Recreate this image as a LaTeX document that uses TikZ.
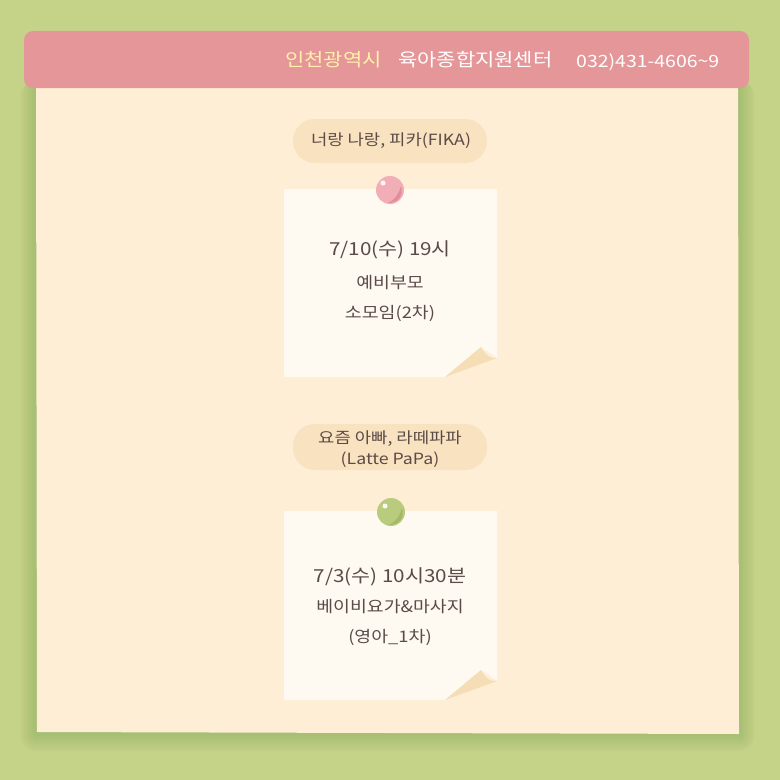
\documentclass[tikz,border=0pt]{standalone}
\usepackage{fontspec}
\setmainfont{Noto Sans CJK KR}
\newfontfamily\wideFont[FakeStretch = 1.15]{Noto Sans CJK KR}

\definecolor{bgGreen}{HTML}{C5D388}
\definecolor{paperCream}{HTML}{FEEED5}
\definecolor{headPink}{HTML}{E59699}
\definecolor{pillTan}{HTML}{F8E2C0}
\definecolor{noteWhite}{HTML}{FEF9F1}
\definecolor{flapTan}{HTML}{F5DDB6}
\definecolor{inkBrown}{HTML}{5B4B48}
\definecolor{cityYellow}{HTML}{FFF0AA}
\definecolor{pinPink}{HTML}{F2AEB6}
\definecolor{pinPinkDark}{HTML}{E28E99}
\definecolor{pinGreen}{HTML}{B9CB7C}
\definecolor{pinGreenDark}{HTML}{A5B868}

\tikzstyle{headText} = [inner sep = 0pt, anchor = west,
                        font = \wideFont\fontsize{18.3}{20}\selectfont
                        ]
\tikzstyle{pillText} = [align = center, text = inkBrown,
                        font = \wideFont\fontsize{15.5}{21}\selectfont
                        ]
\tikzstyle{noteMain} = [text = inkBrown,
                        font = \wideFont\fontsize{18}{20}\selectfont
                        ]
\tikzstyle{noteMinor} = [text = inkBrown,
                         font = \wideFont\fontsize{16}{18}\selectfont
                         ]

\begin{document}
\begin{tikzpicture}[x = 1bp, y = -1bp]

    \useasboundingbox (0, 0) rectangle (780, 780);
    \fill[bgGreen] (0, 0) rectangle (780, 780);

    %%% Paper
    % soft shadow
    \foreach \s in {1, 2, ..., 16}
        \fill[black!70!green, opacity = 0.006, rounded corners = \s bp] (36 - \s, 80) rectangle (739 + \s, 734 + 1.1*\s);
    \fill[paperCream] (36, 80) -- (738, 80) -- (739, 734) -- (37, 732) -- cycle;

    %%% Header
    \fill[headPink, rounded corners = 9bp] (24, 31) rectangle (749, 88);
    \node (city) at (285, 60) [headText, text = cityYellow]{인천광역시};
    \node (centre) at (398, 60) [headText, text = white]{육아종합지원센터};
    \node (phone) at (576, 62) [headText, text = white, font = \wideFont\fontsize{17}{18}\selectfont]{032)431-4606{\char`\~}9};

    %%% Programmes
    % Fika %
    \fill[pillTan, rounded corners = 22bp] (293, 119) rectangle (487, 163);
    \node (fika) at (391, 141) [pillText]{너랑 나랑, 피카(FIKA)};

    \fill[noteWhite] (284, 189) -- (497, 189) -- (497, 358) -- (481, 347) -- (445, 377) -- (284, 377) -- cycle;
    \fill[flapTan] (445, 377) -- (481, 347) .. controls (486, 356) and (491, 359) .. (497, 358) -- cycle;

        % pin
        \fill[pinPink] (390, 190) circle (14);
        \fill[pinPinkDark] (401, 186) .. controls (404, 196) and (398, 203) .. (388, 203)
                           .. controls (396, 199) and (399, 193) .. (401, 186);
        \fill[white, opacity = 0.9] (383, 183) circle (2.5);

    \node (fikaDate) at (390, 250) [noteMain]{7/10(수) 19시};
    \node (fikaWho) at (390, 283) [noteMinor]{예비부모};
    \node (fikaWhat) at (390, 313) [noteMinor]{소모임(2차)};

    % Latte PaPa %
    \fill[pillTan, rounded corners = 22bp] (293, 424) rectangle (487, 470);
    \node (latte) at (390, 449) [pillText]{요즘 아빠, 라떼파파\\(Latte PaPa)};

    \fill[noteWhite] (284, 511) -- (497, 511) -- (497, 681) -- (481, 670) -- (445, 700) -- (284, 700) -- cycle;
    \fill[flapTan] (445, 700) -- (481, 670) .. controls (486, 679) and (491, 682) .. (497, 681) -- cycle;

        % pin
        \fill[pinGreen] (391, 512) circle (14);
        \fill[pinGreenDark] (402, 508) .. controls (405, 518) and (399, 525) .. (389, 525)
                            .. controls (397, 521) and (400, 515) .. (402, 508);
        \fill[white, opacity = 0.9] (385, 506) circle (2.5);

    \node (latteDate) at (390, 577) [noteMain]{7/3(수) 10시30분};
    \node (latteWhat) at (390, 607) [noteMinor]{베이비요가\&마사지};
    \node (latteWho) at (390, 637) [noteMinor]{(영아\_1차)};

\end{tikzpicture}
\end{document}
